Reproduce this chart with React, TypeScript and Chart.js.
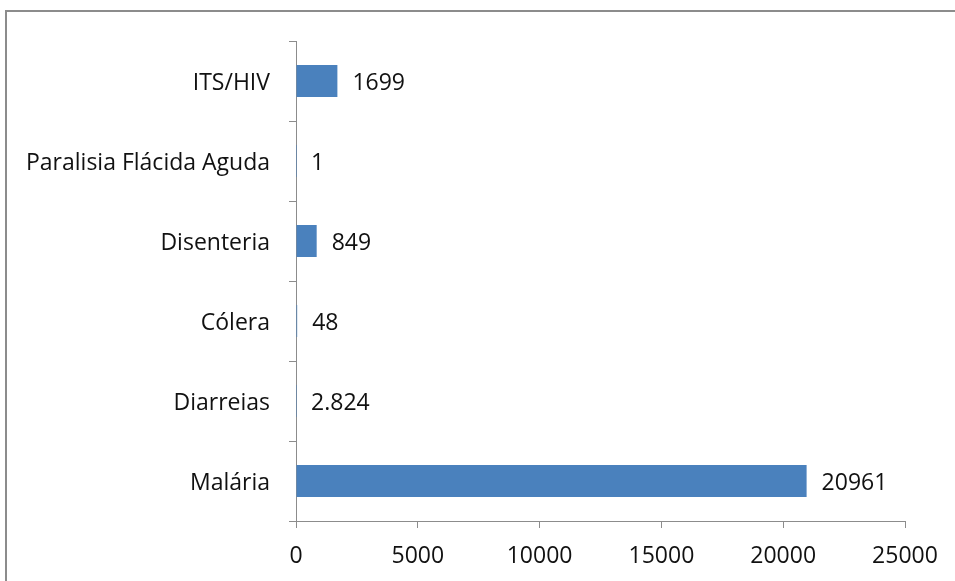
import React, { useEffect, useRef } from "react";
import { Chart, registerables } from "chart.js";

Chart.register(...registerables);

const categories = [
  "ITS/HIV",
  "Paralisia Flácida Aguda",
  "Disenteria",
  "Cólera",
  "Diarreias",
  "Malária",
];
const values = [1699, 1, 849, 48, 2.824, 20961];
const valueLabels = ["1699", "1", "849", "48", "2.824", "20961"];
const xTicks = [0, 5000, 10000, 15000, 20000, 25000];

const FONT = "'Open Sans', Lato, sans-serif";
const FONT_SIZE = 23;

const valueLabelPlugin = {
  id: "valueLabels",
  afterDatasetsDraw(chart: any) {
    const ctx = chart.ctx;
    const meta = chart.getDatasetMeta(0);
    ctx.save();
    ctx.font = `${FONT_SIZE}px ${FONT}`;
    ctx.fillStyle = "#111";
    ctx.textAlign = "left";
    ctx.textBaseline = "middle";
    meta.data.forEach((bar: any, i: number) => {
      ctx.fillText(valueLabels[i], bar.x + 15, bar.y + 2);
    });
    ctx.restore();
  },
};

export default function App() {
  const ref = useRef<HTMLCanvasElement | null>(null);

  useEffect(() => {
    if (!ref.current) return;
    const chart = new Chart(ref.current, {
      type: "bar",
      data: {
        labels: categories,
        datasets: [
          {
            data: values,
            backgroundColor: "#4a81bd",
            borderWidth: 0,
            barPercentage: 0.8,
            categoryPercentage: 0.5,
          },
        ],
      },
      options: {
        indexAxis: "y",
        animation: false,
        responsive: false,
        maintainAspectRatio: false,
        layout: { padding: { left: 0, top: 41, right: 50, bottom: 0 } },
        plugins: {
          legend: { display: false },
          tooltip: { enabled: false },
        },
        scales: {
          x: {
            type: "linear",
            min: xTicks[0],
            max: xTicks[xTicks.length - 1],
            afterBuildTicks: (scale: any) => {
              scale.ticks = xTicks.map((v) => ({ value: v }));
            },
            afterFit: (scale: any) => {
              scale.height = 60;
            },
            grid: {
              drawOnChartArea: false,
              drawTicks: true,
              tickLength: 7,
              color: "#8c8c8c",
            },
            border: { color: "#8c8c8c", width: 1 },
            ticks: {
              font: { family: FONT, size: FONT_SIZE },
              color: "#111",
              padding: 15,
              maxRotation: 0,
              callback: (v: any) => String(v),
            },
          },
          y: {
            type: "category",
            afterFit: (scale: any) => {
              scale.width = 296;
            },
            grid: {
              drawOnChartArea: false,
              drawTicks: true,
              tickLength: 7,
              color: "#8c8c8c",
              offset: true,
            },
            border: { color: "#8c8c8c", width: 1 },
            ticks: {
              font: { family: FONT, size: FONT_SIZE },
              color: "#111",
              padding: 19,
              labelOffset: 2,
            },
          },
        },
      },
      plugins: [valueLabelPlugin],
    });
    return () => chart.destroy();
  }, []);

  return (
    <div
      style={{
        position: "fixed",
        left: 0,
        top: 0,
        width: 955,
        height: 581,
        background: "#fff",
        overflow: "hidden",
      }}
    >
      <div
        style={{
          position: "absolute",
          left: 5,
          top: 10,
          width: 960,
          height: 580,
          borderTop: "2px solid #8c8c8c",
          borderLeft: "2px solid #8c8c8c",
          boxSizing: "border-box",
        }}
      />
      <canvas
        ref={ref}
        width={955}
        height={581}
        style={{ position: "absolute", left: 0, top: 0, width: 955, height: 581 }}
      />
    </div>
  );
}
